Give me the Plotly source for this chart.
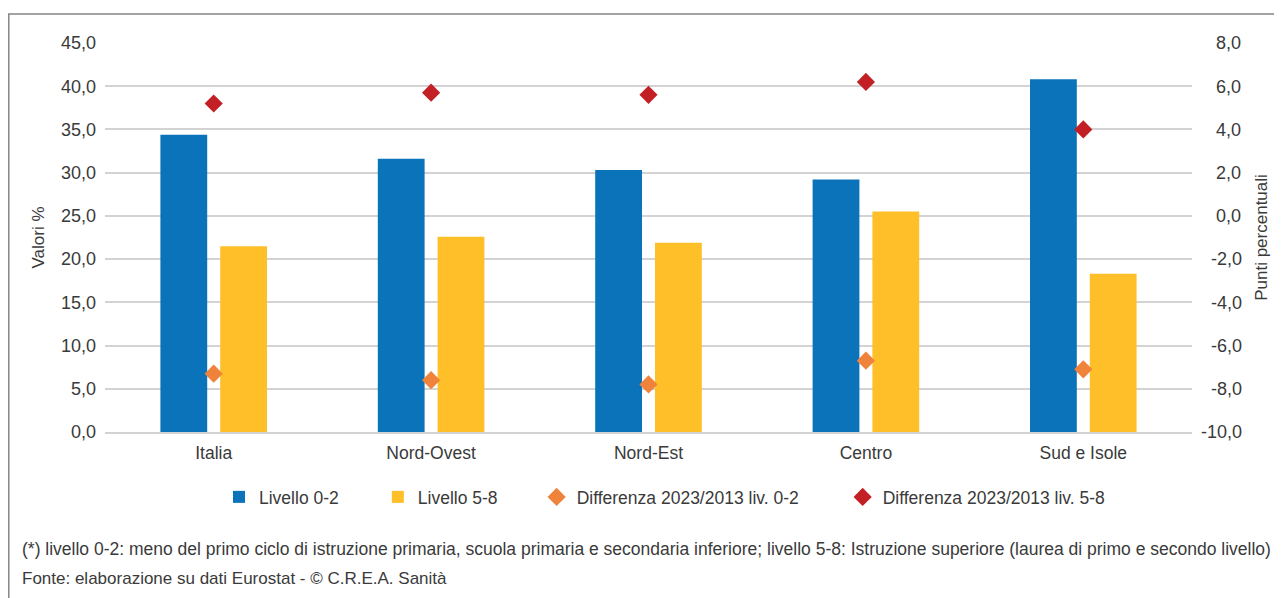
import plotly.graph_objects as go

# dati (valori % e punti percentuali)
regioni = ['Italia', 'Nord-Ovest', 'Nord-Est', 'Centro', 'Sud e Isole']
livello_0_2 = [34.4, 31.6, 30.3, 29.2, 40.8]
livello_5_8 = [21.5, 22.6, 21.9, 25.5, 18.3]
diff_0_2 = [-7.3, -7.6, -7.8, -6.7, -7.1]
diff_5_8 = [5.2, 5.7, 5.6, 6.2, 4.0]

tick_sx = [0, 5, 10, 15, 20, 25, 30, 35, 40, 45]
tick_dx = [-10, -8, -6, -4, -2, 0, 2, 4, 6, 8]

nota = ('(*) livello 0-2: meno del primo ciclo di istruzione primaria, scuola primaria e secondaria '
        'inferiore; livello 5-8: Istruzione superiore (laurea di primo e secondo livello)')
fonte = 'Fonte: elaborazione su dati Eurostat - © C.R.E.A. Sanità'

# la pagina ha 8px di margine nel body: le coordinate sotto sono quelle dello schermo
OFF = 8
W, H = 1282, 598
ML, MR, MT, MB = 105 - OFF, 98, 43 - OFF, 174
PW, PH = W - ML - MR, H - MT - MB
FONT = 'Liberation Sans, Arial, sans-serif'
GRIGIO = '#3a3a3a'


def px_x(x):
    return (x - OFF - ML) / PW


def px_y(y):
    return (H - MB - (y - OFF)) / PH


def etichetta_dx(v):
    # allineamento a destra delle etichette sull'asse secondario
    s = f'{v:.1f}'.replace('.', ',')
    pad = ''
    if v >= 0:
        pad = '\u2007\u2008'
    elif v > -10:
        pad = '\u2007'
    return pad + s


def spazi(n):
    return '\u00a0' * n


fig = go.Figure()
fig.add_trace(go.Bar(x=regioni, y=livello_0_2, name='Livello 0-2' + spazi(7),
                     marker=dict(color='#0A73BA', line=dict(width=0))))
fig.add_trace(go.Bar(x=regioni, y=livello_5_8, name='Livello 5-8' + spazi(7),
                     marker=dict(color='#FEBF28', line=dict(width=0))))
fig.add_trace(go.Scatter(x=regioni, y=diff_0_2, name='Differenza 2023/2013 liv. 0-2' + spazi(8),
                         mode='markers', yaxis='y2',
                         marker=dict(symbol='diamond', size=14, color='#F0833C', line=dict(width=0))))
fig.add_trace(go.Scatter(x=regioni, y=diff_5_8, name='Differenza 2023/2013 liv. 5-8',
                         mode='markers', yaxis='y2',
                         marker=dict(symbol='diamond', size=14, color='#C32026', line=dict(width=0))))

fig.update_layout(
    width=W, height=H,
    margin=dict(l=ML, r=MR, t=MT, b=MB, autoexpand=False),
    paper_bgcolor='white', plot_bgcolor='white',
    font=dict(family=FONT, size=17, color=GRIGIO),
    separators=',.',
    barmode='group', bargap=0.45, bargroupgap=0.217,
    showlegend=True,
    legend=dict(orientation='h', x=px_x(219), xanchor='left', y=px_y(497), yanchor='middle',
                font=dict(size=17.5, color=GRIGIO), traceorder='normal'),
    xaxis=dict(showgrid=False, showline=True, linecolor='#d3d3d3', linewidth=2,
               ticks='', tickfont=dict(size=17.5), ticklabelstandoff=4, automargin=False),
    yaxis=dict(range=[0, 45], tickvals=tick_sx, tickformat='.1f', showgrid=True,
               gridcolor='#d3d3d3', gridwidth=2, zeroline=False, ticks='',
               tickfont=dict(size=18), ticklabelstandoff=8, automargin=False,
               title=dict(text='Valori %', font=dict(size=17), standoff=12)),
    yaxis2=dict(range=[-10, 8], overlaying='y', side='right', tickvals=tick_dx,
                ticktext=[etichetta_dx(v) for v in tick_dx], showgrid=False,
                zeroline=False, ticks='', tickfont=dict(size=18), ticklabelstandoff=8,
                automargin=False,
                title=dict(text='Punti percentuali', font=dict(size=17), standoff=14)),
)

# cornice del riquadro (bordo superiore e sinistro)
fig.add_shape(type='rect', xref='paper', yref='paper',
              x0=px_x(8.8), x1=px_x(W + 30), y0=px_y(H + 30), y1=px_y(14),
              line=dict(color='#858585', width=1.5), fillcolor='rgba(0,0,0,0)', layer='below')

fig.add_annotation(text=nota, xref='paper', yref='paper', x=px_x(20), y=px_y(549),
                   xanchor='left', yanchor='middle', showarrow=False,
                   font=dict(size=17.5, color=GRIGIO))
fig.add_annotation(text=fonte, xref='paper', yref='paper', x=px_x(20), y=px_y(578),
                   xanchor='left', yanchor='middle', showarrow=False,
                   font=dict(size=17, color=GRIGIO))

fig.write_html('out.html')
